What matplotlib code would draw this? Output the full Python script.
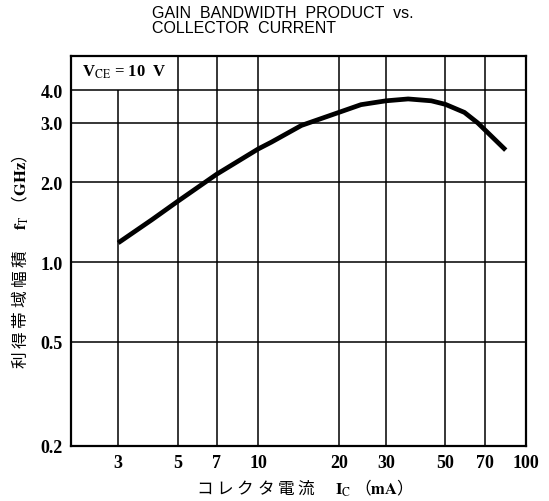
import numpy as np
import matplotlib
matplotlib.use('Agg')
import matplotlib.pyplot as plt

# data
ic_ma = [3, 4, 5, 7, 10, 11.2, 14.5, 20, 24.2, 30, 36.3, 44.3, 50, 58.9, 66.1, 84]
ft_ghz = [1.18, 1.44, 1.69, 2.11, 2.51, 2.63, 2.95, 3.29, 3.52, 3.64, 3.70, 3.64, 3.53, 3.29, 3.0, 2.49]

x_ticks = [3, 5, 7, 10, 20, 30, 50, 70, 100]
x_labels = ['3', '5', '7', '10', '20', '30', '50', '70', '100']
y_ticks = [0.2, 0.5, 1.0, 2.0, 3.0, 4.0]
y_labels = ['0.2', '0.5', '1.0', '2.0', '3.0', '4.0']

# the printed y axis is not a clean log scale, so follow its gridlines
knot_vals = np.log10([0.2, 0.5, 1.0, 2.0, 3.0, 4.0, 5.4])
knot_pos = np.array([0, 104, 184, 264, 323, 356, 390], dtype=float)

def fwd(v):
    v = np.clip(np.asarray(v, dtype=float), 1e-6, None)
    return np.interp(np.log10(v), knot_vals, knot_pos)

def inv(p):
    return 10 ** np.interp(np.asarray(p, dtype=float), knot_pos, knot_vals)

plt.rcParams['mathtext.fontset'] = 'stix'
fig = plt.figure(figsize=(5.49, 5.02), dpi=100)
ax = fig.add_axes([71/549, 1 - 447/502, 455/549, 390/502])
ax.set_xscale('log')
ax.set_yscale('function', functions=(fwd, inv))
ax.set_xlim(2, 100)
ax.set_ylim(0.2, 5.4)

# gridlines (x=3 stops under the label box)
for xv in [5, 7, 10, 20, 30, 50, 70]:
    ax.axvline(xv, color='black', lw=1.1, zorder=1)
ax.vlines(3, 0.2, 4.0, color='black', lw=1.1, zorder=1)
for yv in [0.5, 1.0, 2.0, 3.0, 4.0]:
    ax.axhline(yv, color='black', lw=1.1, zorder=1)

ax.plot(ic_ma, ft_ghz, color='black', lw=3.4, solid_capstyle='butt',
        solid_joinstyle='round', zorder=3)

ax.text(2.2, 4.72, r'V$_{\mathrm{CE}}$ = 10  V', fontsize=12, family='Liberation Serif',
        fontweight='bold', va='center', ha='left')

ax.xaxis.set_minor_locator(matplotlib.ticker.NullLocator())
ax.yaxis.set_minor_locator(matplotlib.ticker.NullLocator())
ax.set_xticks(x_ticks)
ax.set_xticklabels(x_labels)
ax.set_yticks(y_ticks)
ax.set_yticklabels(y_labels)
ax.tick_params(length=0, pad=6)
for lab in ax.get_xticklabels() + ax.get_yticklabels():
    lab.set_fontfamily('Liberation Serif')
    lab.set_fontweight('bold')
    lab.set_fontsize(13)
for sp in ax.spines.values():
    sp.set_linewidth(1.6)

fig.text(152/549, 1 - 21/502, 'GAIN  BANDWIDTH  PRODUCT  vs.\nCOLLECTOR  CURRENT',
         family='Liberation Sans', fontsize=11.5, va='center', ha='left', linespacing=1.0)

fig.text(300/549, 1 - 488/502, 'コ レ ク タ 電 流　 $\\mathbf{I}_\\mathrm{C}$ （$\\mathbf{mA}$）',
         family=['Noto Sans CJK JP', 'DejaVu Sans'], fontsize=12, ha='center', va='center')
fig.text(20/549, 1 - 262/502, '利 得 帯 域 幅 積　 $\\mathbf{f}_\\mathrm{T}$ （$\\mathbf{GHz}$）',
         family=['Noto Sans CJK JP', 'DejaVu Sans'], fontsize=12, ha='center', va='center',
         rotation=90)

fig.savefig('out.png', dpi=100)
